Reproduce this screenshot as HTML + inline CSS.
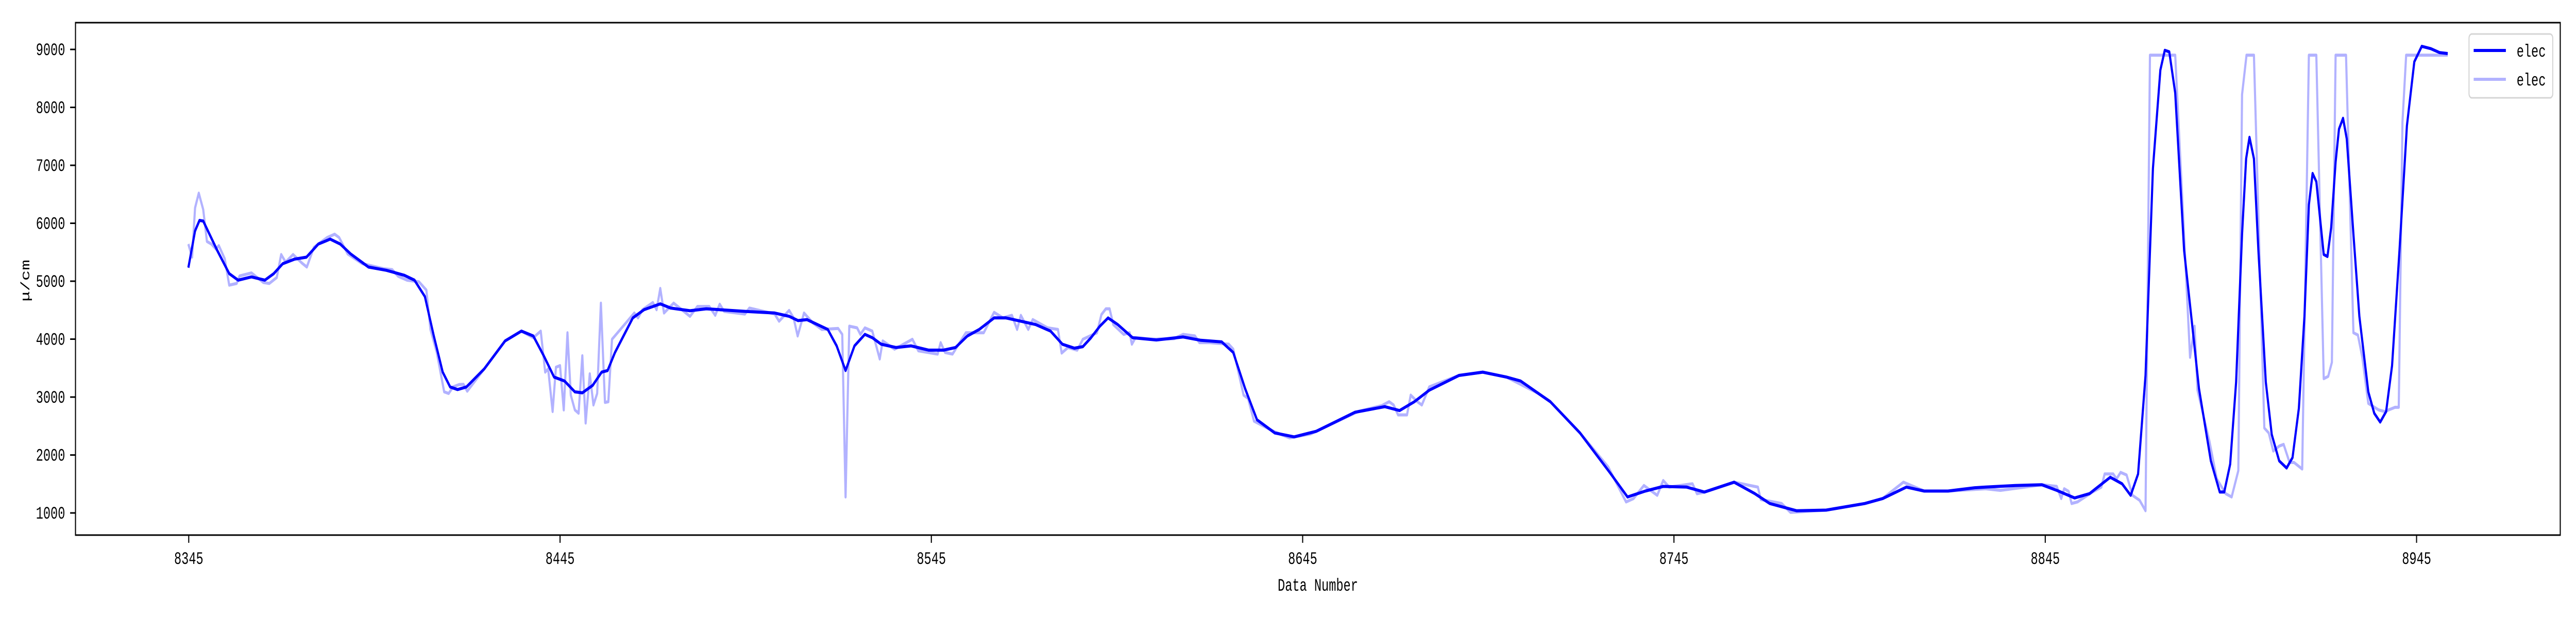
<!DOCTYPE html>
<html><head><meta charset="utf-8"><meta name="viewport" content="width=7200, initial-scale=1">
<style>
html,body{margin:0;padding:0;background:#fff;width:100%;height:100%;overflow:hidden;}
svg{display:block;position:absolute;left:0;top:0;width:100vw;height:100vh;}
text{font-family:"Liberation Mono","Noto Sans CJK SC",monospace;fill:#000;}
</style></head><body>
<svg id="chart" viewBox="0 0 7200 1200" preserveAspectRatio="none" xmlns="http://www.w3.org/2000/svg">
<rect x="0" y="0" width="7200" height="1200" fill="#fff"/>
<g id="plot"></g>
<g id="axes"></g>
</svg>
<script>
const smoothX=[8344.9,8346.7,8347.9,8348.9,8352.7,8355.9,8358.3,8361.9,8365.5,8367.9,8370.3,8373.5,8376.7,8379.9,8383.1,8385.8,8388.6,8393.4,8398.2,8403.0,8405.8,8408.6,8411.0,8413.4,8415.4,8417.4,8419.8,8424.6,8430.2,8434.6,8437.8,8440.6,8443.4,8446.2,8449.0,8451.0,8453.8,8456.2,8457.8,8459.8,8464.6,8467.6,8472.0,8474.8,8480.0,8484.4,8494.8,8502.8,8506.7,8509.1,8511.5,8517.1,8519.5,8521.9,8524.3,8527.1,8529.1,8531.5,8535.5,8539.5,8544.3,8548.3,8551.5,8554.7,8557.9,8561.9,8565.1,8569.1,8573.1,8577.1,8580.3,8583.5,8585.8,8588.0,8590.4,8592.6,8595.2,8599.2,8605.6,8612.8,8617.6,8623.2,8626.3,8629.5,8632.7,8637.5,8642.7,8648.7,8659.1,8667.1,8671.1,8675.1,8679.1,8687.1,8693.5,8699.9,8703.7,8708.5,8711.7,8719.7,8727.7,8732.5,8737.3,8742.1,8748.4,8753.2,8761.2,8766.8,8770.8,8778.0,8786.0,8796.4,8801.2,8807.6,8812.4,8818.8,8826.0,8829.0,8836.9,8844.1,8848.1,8852.9,8856.9,8862.5,8865.7,8868.0,8870.0,8872.0,8874.0,8876.0,8877.2,8878.4,8880.0,8882.4,8884.8,8886.4,8889.6,8892.0,8893.2,8894.8,8896.4,8898.0,8899.1,8900.0,8901.2,8902.4,8904.4,8906.0,8908.0,8910.0,8911.6,8913.3,8914.8,8916.0,8917.0,8918.0,8920.0,8921.0,8922.0,8923.2,8924.1,8925.2,8926.2,8928.0,8929.6,8932.0,8933.6,8935.2,8936.8,8938.4,8940.4,8942.4,8944.4,8946.4,8948.8,8951.2,8953.4];
const smoothY=[5233,5868,6049,6038,5528,5131,5018,5074,5018,5131,5301,5380,5414,5641,5726,5641,5471,5244,5188,5103,5018,4734,4054,3430,3175,3130,3175,3487,3969,4139,4054,3714,3345,3277,3090,3073,3203,3430,3458,3770,4366,4508,4609,4536,4490,4524,4479,4451,4394,4320,4337,4167,3884,3458,3884,4082,4025,3912,3855,3884,3810,3810,3855,4054,4167,4366,4366,4309,4252,4139,3912,3844,3870,4025,4224,4366,4252,4025,3986,4037,3980,3952,3770,3147,2608,2381,2313,2410,2738,2835,2767,2920,3118,3373,3430,3345,3277,3062,2920,2381,1701,1276,1378,1458,1446,1361,1531,1333,1163,1038,1049,1163,1248,1446,1378,1378,1435,1446,1474,1486,1390,1259,1333,1616,1503,1304,1673,3373,6945,8645,8986,8958,8249,5528,4110,3147,1899,1361,1361,1843,3260,5811,7115,7483,7115,5528,3260,2353,1899,1775,1956,2806,4394,6321,6860,6718,5460,5426,5925,7058,7625,7812,7455,5811,4394,3090,2721,2568,2750,3543,5528,7682,8787,9054,9014,8946,8929];
const rawX=[8344.9,8345.9,8346.7,8347.7,8348.9,8349.9,8351.1,8352.3,8353.1,8354.7,8355.9,8357.9,8358.7,8361.9,8365.1,8366.7,8368.7,8369.9,8371.1,8373.1,8375.5,8376.8,8378.7,8382.3,8384.3,8385.5,8387.8,8391.8,8397.4,8399.8,8401.4,8403.8,8407.0,8409.0,8410.1,8411.8,8413.8,8415.0,8416.2,8417.8,8419.0,8420.0,8424.6,8430.2,8434.6,8437.8,8439.8,8441.0,8441.8,8443.0,8443.9,8445.0,8446.0,8447.0,8447.9,8449.0,8450.0,8451.0,8451.9,8453.0,8454.0,8455.0,8456.0,8457.1,8458.0,8459.0,8465.0,8466.0,8467.2,8470.0,8471.0,8472.0,8473.0,8475.6,8480.0,8482.0,8485.2,8486.8,8488.0,8489.2,8494.8,8496.0,8502.8,8504.0,8506.7,8507.9,8509.0,8510.7,8513.1,8515.5,8519.9,8521.0,8521.9,8522.9,8525.0,8525.9,8527.1,8529.1,8531.1,8531.9,8535.1,8539.9,8541.5,8546.7,8547.5,8548.7,8550.7,8554.3,8556.7,8559.1,8561.9,8564.3,8566.7,8568.1,8569.1,8571.1,8572.3,8576.3,8579.1,8580.1,8581.8,8584.3,8585.8,8589.6,8590.8,8592.0,8593.0,8594.0,8596.8,8598.4,8599.0,8600.0,8604.8,8610.4,8612.8,8616.0,8617.2,8620.0,8625.1,8626.3,8629.1,8630.3,8631.9,8637.5,8641.5,8647.1,8659.9,8666.3,8668.3,8669.5,8670.7,8673.1,8674.1,8675.9,8677.1,8679.1,8687.1,8693.5,8699.9,8708.5,8711.7,8719.7,8727.3,8732.1,8734.1,8736.9,8740.5,8742.1,8743.7,8750.0,8751.2,8753.2,8761.2,8767.6,8768.4,8774.0,8776.4,8786.0,8796.4,8801.2,8806.8,8812.4,8818.8,8828.9,8832.9,8844.1,8848.1,8849.3,8850.1,8851.3,8852.1,8853.7,8857.7,8860.1,8861.0,8863.3,8864.2,8865.3,8866.9,8868.5,8870.4,8872.0,8873.2,8880.0,8884.0,8885.2,8886.0,8889.2,8891.2,8893.6,8895.2,8897.0,8898.0,8899.2,8901.2,8904.0,8905.2,8906.4,8908.0,8909.2,8910.8,8912.0,8914.2,8916.0,8918.0,8920.0,8921.2,8922.2,8923.2,8926.0,8928.0,8929.2,8930.4,8932.0,8934.8,8936.4,8939.2,8940.2,8941.2,8942.2,8953.4];
const rawY=[5641,5414,6265,6520,6236,5686,5641,5556,5613,5386,4932,4961,5091,5142,4978,4961,5063,5460,5329,5460,5312,5244,5584,5754,5811,5754,5471,5301,5216,5199,5085,5018,4989,4847,4167,3770,3090,3062,3175,3215,3220,3101,3487,3969,4139,4025,4139,3430,3487,2750,3515,3543,2778,4110,3034,2778,2721,3714,2551,3402,2863,3062,4621,2908,2920,3997,4451,4366,4508,4632,4508,4876,4451,4621,4394,4564,4564,4411,4604,4479,4434,4536,4434,4309,4496,4366,4054,4451,4280,4167,4184,4082,1276,4224,4195,4082,4195,4139,3657,3969,3827,3997,3799,3742,3940,3770,3742,4110,4110,4110,4462,4366,4411,4167,4411,4167,4337,4195,4167,3759,3855,3810,3997,4110,4423,4524,4524,4252,4082,4110,3912,4025,3997,4008,4082,4054,3940,3940,3912,3827,3034,2977,2585,2398,2296,2364,2750,2852,2920,2863,2693,2693,3034,2920,2863,3175,3373,3430,3345,3062,2920,2381,1792,1190,1248,1474,1304,1560,1446,1503,1333,1361,1531,1446,1231,1163,1010,1049,1163,1248,1531,1378,1378,1418,1390,1486,1458,1248,1418,1373,1163,1191,1361,1446,1673,1673,1588,1701,1656,1304,1219,1038,8901,8901,3685,4224,3118,2239,1588,1333,1276,1730,8221,8901,8901,2466,2381,2069,2154,2183,1871,1871,1758,8901,8901,3317,3357,3600,8901,8901,4110,4071,3685,2891,2778,2750,2823,2823,7739,8901,8901];
const xTicks=[8345,8445,8545,8645,8745,8845,8945];
const yTicks=[1000,2000,3000,4000,5000,6000,7000,8000,9000];

const L=211,R=7156,T=44,B=1039;
const X0=8314.5,X1=8983.7,Y0=618,Y1=9462;
function sx(v){return L+(v-X0)/(X1-X0)*(R-L);}
function sy(v){return B-(v-Y0)/(Y1-Y0)*(B-T);}
const NS="http://www.w3.org/2000/svg";
function mk(tag,attrs,parent){const e=document.createElementNS(NS,tag);for(const k in attrs)e.setAttribute(k,attrs[k]);parent.appendChild(e);return e;}
const plot=document.getElementById('plot');
const axes=document.getElementById('axes');

function pts(xs,ys){return xs.map((x,i)=>sx(x).toFixed(1)+','+sy(ys[i]).toFixed(1)).join(' ');}
const raw=mk('polyline',{points:pts(rawX,rawY),fill:'none',stroke:'#0000ff','stroke-opacity':'0.3','stroke-width':6,'stroke-linejoin':'round'},plot);


const sm=mk('polyline',{points:pts(smoothX,smoothY),fill:'none',stroke:'#0000ff','stroke-width':6,'stroke-linejoin':'round'},plot);



const frame=mk('rect',{x:L,y:T,width:R-L,height:B-T,fill:'none',stroke:'#000','stroke-width':3},axes);



xTicks.forEach(t=>{
  const x=sx(t);
  const tk=mk('line',{x1:x,y1:B,x2:x,y2:B+15,stroke:'#000','stroke-width':3},axes);
  
  
  const lb=mk('text',{x:x,y:1095,'text-anchor':'middle','font-size':34},axes);
  lb.textContent=t;
  
  
});
yTicks.forEach(t=>{
  const y=sy(t);
  const tk=mk('line',{x1:L-15,y1:y,x2:L,y2:y,stroke:'#000','stroke-width':3},axes);
  
  
  const lb=mk('text',{x:182,y:y+11,'text-anchor':'end','font-size':34},axes);
  lb.textContent=t;
  
  
});
const xt=mk('text',{x:(L+R)/2,y:1147,'text-anchor':'middle','font-size':34},axes);
xt.textContent='Data Number';


const yt=mk('text',{x:0,y:0,'text-anchor':'middle','font-size':34,transform:'translate(82,545) rotate(-90)'},axes);
yt.textContent='μ/cm';



const lg=mk('g',{},axes);


mk('rect',{x:6901,y:66,width:234,height:124,rx:8,fill:'#fff','fill-opacity':0.8,stroke:'#d5d5d5','stroke-width':3},lg);
const e1=mk('line',{x1:6914,y1:98,x2:7004,y2:98,stroke:'#0000ff','stroke-width':6},lg);


const t1=mk('text',{x:7034,y:110,'font-size':34},lg);
t1.textContent='elec';


const e2=mk('line',{x1:6914,y1:154,x2:7004,y2:154,stroke:'#0000ff','stroke-opacity':0.3,'stroke-width':6},lg);


const t2=mk('text',{x:7034,y:166,'font-size':34},lg);
t2.textContent='elec';


</script>
</body></html>
